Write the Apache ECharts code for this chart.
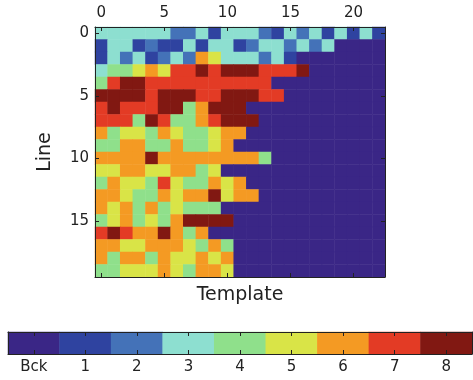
<!DOCTYPE html>
<html>
<head>
<meta charset="utf-8">
<script src="https://cdn.jsdelivr.net/npm/echarts@6/dist/echarts.min.js"></script>
<style>html,body{margin:0;padding:0;background:#fff}#c{width:473px;height:380px}</style>
</head>
<body>
<div id="c"></div>
<script>
// Column (template) and row (line) categories
var templates = []; for (var i = 0; i < 23; i++) templates.push(String(i));
var lines = []; for (var j = 0; j < 20; j++) lines.push(String(j));
// Colorbar labels and class colours
var classLabels = ['Bck', '1', '2', '3', '4', '5', '6', '7', '8'];
var classColors = ['#3a2686', '#2f43a0', '#4472b8', '#8ddfd0', '#8fe08b', '#d9e447', '#f49a23', '#e33b25', '#811812'];
// Cell values per line (0 = background)
var line0  = [3,3,3,3,3,3,2,2,3,1,3,3,3,2,1,3,2,3,1,3,1,3,1];
var line1  = [1,3,3,1,2,1,1,3,1,3,3,1,2,3,3,2,3,2,3,0,0,0,0];
var line2  = [1,3,2,3,1,2,3,2,6,5,3,3,3,2,3,1,0,0,0,0,0,0,0];
var line3  = [3,4,4,5,6,5,7,7,8,7,8,8,8,7,7,7,8,0,0,0,0,0,0];
var line4  = [4,7,8,8,7,7,7,7,7,7,7,7,7,7,0,0,0,0,0,0,0,0,0];
var line5  = [8,8,8,8,7,8,8,8,7,7,8,8,8,7,7,0,0,0,0,0,0,0,0];
var line6  = [7,8,7,7,7,8,8,4,6,8,8,8,0,0,0,0,0,0,0,0,0,0,0];
var line7  = [7,7,7,4,8,7,4,4,6,7,8,8,8,0,0,0,0,0,0,0,0,0,0];
var line8  = [6,4,5,5,4,6,5,4,4,5,6,6,0,0,0,0,0,0,0,0,0,0,0];
var line9  = [4,4,6,6,4,4,6,4,4,5,6,0,0,0,0,0,0,0,0,0,0,0,0];
var line10 = [6,6,6,6,8,6,6,6,6,6,6,6,6,4,0,0,0,0,0,0,0,0,0];
var line11 = [5,5,6,6,5,5,6,6,4,5,0,0,0,0,0,0,0,0,0,0,0,0,0];
var line12 = [4,6,5,5,4,7,5,4,4,6,5,6,0,0,0,0,0,0,0,0,0,0,0];
var line13 = [6,6,5,4,4,6,5,6,6,8,5,6,6,0,0,0,0,0,0,0,0,0,0];
var line14 = [6,5,6,4,6,4,5,4,4,4,0,0,0,0,0,0,0,0,0,0,0,0,0];
var line15 = [4,5,6,4,5,4,6,8,8,8,8,0,0,0,0,0,0,0,0,0,0,0,0];
var line16 = [7,8,7,6,6,8,6,4,6,0,0,0,0,0,0,0,0,0,0,0,0,0,0];
var line17 = [6,6,5,5,6,6,6,5,4,6,4,0,0,0,0,0,0,0,0,0,0,0,0];
var line18 = [6,4,6,6,4,6,5,5,6,5,6,0,0,0,0,0,0,0,0,0,0,0,0];
var line19 = [4,4,5,5,5,6,5,4,6,6,5,0,0,0,0,0,0,0,0,0,0,0,0];
var lineRows = [line0,line1,line2,line3,line4,line5,line6,line7,line8,line9,line10,line11,line12,line13,line14,line15,line16,line17,line18,line19];

var cells = [];
lineRows.forEach(function (row, r) { row.forEach(function (v, c) { cells.push([c, r, v]); }); });
var barCells = classLabels.map(function (_, i) { return [i, 0, i]; });

var FONT = 'DejaVu Sans', TXT = '#222';
var lineStyle = { show: true, lineStyle: { color: '#222', width: 1 } };
var tick = { show: true, inside: true, length: 4, interval: 4, alignWithLabel: true, lineStyle: { color: '#222' } };
var tickAll = { show: true, inside: true, length: 4, interval: 0, alignWithLabel: true, lineStyle: { color: '#222' } };

var chart = echarts.init(document.getElementById('c'), null, { renderer: 'canvas' });
chart.setOption({
  animation: false,
  backgroundColor: '#fff',
  textStyle: { fontFamily: FONT },
  grid: [
    { left: 95, top: 27, width: 290, height: 250 },
    { left: 8, top: 332, width: 464, height: 22 }
  ],
  xAxis: [
    { gridIndex: 0, z: 10, type: 'category', data: templates, position: 'top', axisLine: lineStyle, axisTick: tick,
      axisLabel: { interval: 4, fontSize: 15, color: TXT, margin: 6, fontFamily: FONT }, splitLine: { show: false } },
    { gridIndex: 0, z: 10, type: 'category', data: templates, position: 'bottom', axisLine: lineStyle, axisTick: tick,
      axisLabel: { show: false }, name: 'Template', nameLocation: 'middle', nameGap: 18,
      nameTextStyle: { fontSize: 19, color: TXT, fontFamily: FONT, verticalAlign: 'middle' } },
    { gridIndex: 1, z: 10, type: 'category', data: classLabels, position: 'bottom', axisLine: lineStyle, axisTick: tickAll,
      axisLabel: { interval: 0, fontSize: 15, color: TXT, margin: 6, fontFamily: FONT } },
    { gridIndex: 1, z: 10, type: 'category', data: classLabels, position: 'top', axisLine: lineStyle, axisTick: tickAll,
      axisLabel: { show: false } }
  ],
  yAxis: [
    { gridIndex: 0, z: 10, type: 'category', data: lines, inverse: true, position: 'left', axisLine: lineStyle, axisTick: tick,
      axisLabel: { interval: 4, fontSize: 15, color: TXT, margin: 6, fontFamily: FONT },
      name: 'Line', nameLocation: 'middle', nameGap: 40, nameRotate: 90,
      nameTextStyle: { fontSize: 19, color: TXT, fontFamily: FONT } },
    { gridIndex: 0, z: 10, type: 'category', data: lines, inverse: true, position: 'right', axisLine: lineStyle, axisTick: tick,
      axisLabel: { show: false } },
    { gridIndex: 1, z: 10, type: 'category', data: [''], position: 'left', axisLine: lineStyle, axisTick: { show: false }, axisLabel: { show: false } },
    { gridIndex: 1, z: 10, type: 'category', data: [''], position: 'right', axisLine: lineStyle, axisTick: { show: false }, axisLabel: { show: false } }
  ],
  visualMap: {
    type: 'piecewise', show: false, dimension: 2, seriesIndex: [0, 1],
    pieces: classColors.map(function (col, i) { return { value: i, color: col }; })
  },
  series: [
    { type: 'heatmap', z: 1, xAxisIndex: 0, yAxisIndex: 0, data: cells, itemStyle: { borderWidth: 0 }, emphasis: { disabled: true } },
    { type: 'heatmap', z: 1, xAxisIndex: 2, yAxisIndex: 2, data: barCells, itemStyle: { borderWidth: 0 }, emphasis: { disabled: true } }
  ]
});
</script>
</body>
</html>
